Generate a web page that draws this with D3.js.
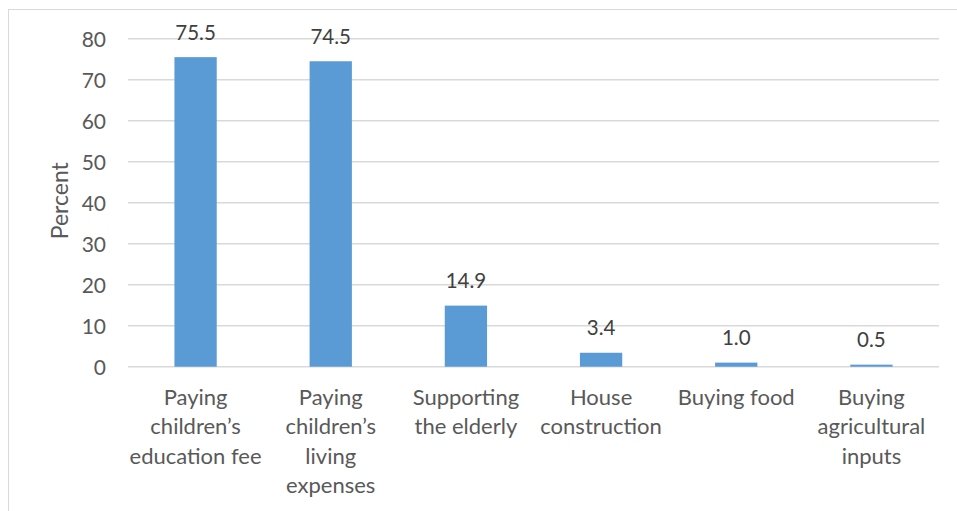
<!DOCTYPE html>
<html>
<head>
<meta charset="utf-8">
<script src="https://cdn.jsdelivr.net/npm/d3@7"></script>
<style>
  html, body { margin: 0; padding: 0; background: #fff; }
  svg { display: block; }
</style>
</head>
<body>
<svg id="chart" width="957" height="511"></svg>
<script>
// Category labels, split into the lines they wrap onto
const categories = [
  ["Paying", "children\u2019s", "education fee"],
  ["Paying", "children\u2019s", "living", "expenses"],
  ["Supporting", "the elderly"],
  ["House", "construction"],
  ["Buying food"],
  ["Buying", "agricultural", "inputs"]
];
const values = [75.5, 74.5, 14.9, 3.4, 1.0, 0.5];
const yTicks = [0, 10, 20, 30, 40, 50, 60, 70, 80];
const yTitle = "Percent";

const font = "Lato, 'Open Sans', sans-serif";
const textColor = "#595959";

const svg = d3.select("#chart");
const W = 957, H = 511;

// outer chart frame
svg.append("rect")
  .attr("x", 8.5).attr("y", 9.5)
  .attr("width", W + 10).attr("height", H + 10)
  .attr("fill", "#fff").attr("stroke", "#d9d9d9").attr("stroke-width", 1);

const plot = { left: 128, right: 939, top: 38.7, bottom: 366.7 };

const x = d3.scaleBand()
  .domain(d3.range(categories.length))
  .range([plot.left, plot.right])
  .paddingInner(0.687)
  .paddingOuter(0.3435);

const y = d3.scaleLinear()
  .domain([0, 80])
  .range([plot.bottom, plot.top]);

// horizontal gridlines
svg.append("g")
  .selectAll("line")
  .data(yTicks)
  .join("line")
  .attr("x1", plot.left).attr("x2", plot.right)
  .attr("y1", d => y(d)).attr("y2", d => y(d))
  .attr("stroke", "#d9d9d9").attr("stroke-width", 1.5);

// y tick labels
const yAxis = d3.axisLeft(y).tickValues(yTicks).tickSize(0).tickPadding(0);
const gy = svg.append("g")
  .attr("transform", `translate(${plot.left - 22},0)`)
  .call(yAxis);
gy.select(".domain").remove();
gy.selectAll("text")
  .attr("font-family", font)
  .attr("font-size", 21)
  .attr("fill", textColor)
  .attr("dy", "0.35em");

// bars
svg.append("g")
  .selectAll("rect")
  .data(values)
  .join("rect")
  .attr("x", (d, i) => x(i))
  .attr("width", x.bandwidth())
  .attr("y", d => y(d))
  .attr("height", d => y(0) - y(d))
  .attr("fill", "#5b9bd5");

// value labels
svg.append("g")
  .selectAll("text")
  .data(values)
  .join("text")
  .attr("x", (d, i) => x(i) + x.bandwidth() / 2)
  .attr("y", d => y(d) - 17.5)
  .attr("text-anchor", "middle")
  .attr("font-family", font)
  .attr("font-size", 20.5)
  .attr("fill", "#404040")
  .text(d => d.toFixed(1));

// category labels
const gx = svg.append("g");
categories.forEach((lines, i) => {
  const cx = x(i) + x.bandwidth() / 2;
  const t = gx.append("text")
    .attr("x", cx)
    .attr("y", 405)
    .attr("text-anchor", "middle")
    .attr("font-family", font)
    .attr("font-size", 22)
    .attr("fill", textColor);
  lines.forEach((s, k) => {
    t.append("tspan")
      .attr("x", cx)
      .attr("y", 405 + k * 29.3)
      .text(s);
  });
});

// axis title
svg.append("text")
  .attr("transform", `translate(68,${(plot.top + plot.bottom) / 2 - 2}) rotate(-90)`)
  .attr("text-anchor", "middle")
  .attr("font-family", font)
  .attr("font-size", 23)
  .attr("fill", textColor)
  .text(yTitle);
</script>
</body>
</html>
